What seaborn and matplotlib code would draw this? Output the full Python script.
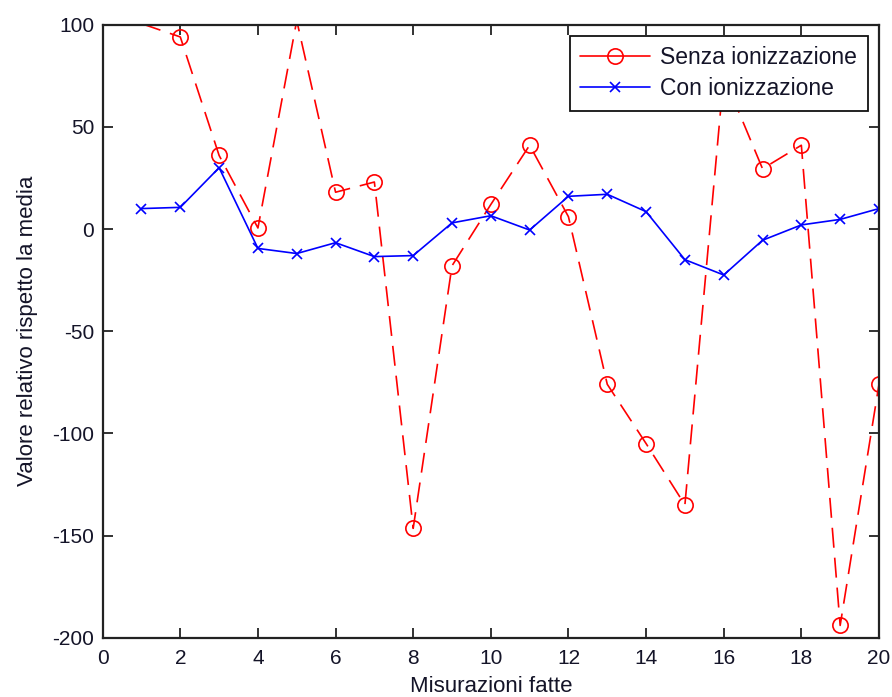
import matplotlib
matplotlib.use("Agg")
import matplotlib.pyplot as plt
from matplotlib.lines import Line2D
import seaborn as sns
import pandas as pd

misure = list(range(1, 21))
senza = [100.5, 94, 36, 0.5, 102, 18, 23, -146.5, -18, 12, 41, 6, -76, -105, -135, 75, 29.5, 41, -194, -76]
con = [10, 10.6, 30, -9.5, -12, -6.7, -13.5, -13, 3, 6.5, -0.5, 16, 17, 8.5, -15, -22.5, -5.5, 2, 4.7, 10]
etichette = ["Senza ionizzazione", "Con ionizzazione"]
xticks = list(range(0, 21, 2))
yticks = list(range(-200, 101, 50))
ylim = (-200, 100)

sns.set_style("ticks")
plt.rcParams["font.family"] = ["Liberation Sans", "DejaVu Sans"]
plt.rcParams["axes.unicode_minus"] = False
plt.rcParams["xtick.direction"] = "in"
plt.rcParams["ytick.direction"] = "in"

df = pd.DataFrame({"x": misure, "senza": senza, "con": con})

fig = plt.figure(figsize=(8.92, 6.97), dpi=100)
ax = fig.add_axes([0.1151, 0.0851, 0.8703, 0.8795])

red = "#ff0000"
blue = "#0000ff"
# like MATLAB: markers whose centre falls outside the axes are not drawn
visibili = [i for i, v in enumerate(senza) if ylim[0] <= v <= ylim[1]]
sns.lineplot(data=df, x="x", y="senza", ax=ax, color=red, linestyle=(0, (12, 6)),
             linewidth=1.2, marker="o", markersize=11, markerfacecolor="none",
             markeredgecolor=red, markeredgewidth=1.2, markevery=visibili,
             sort=False, label=etichette[0])
sns.lineplot(data=df, x="x", y="con", ax=ax, color=blue, linestyle="-",
             linewidth=1.2, marker="x", markersize=7, markeredgecolor=blue,
             markeredgewidth=1.2, sort=False, label=etichette[1])

ax.set_xlim(0, 20)
ax.set_ylim(*ylim)
ax.set_xticks(xticks)
ax.set_yticks(yticks)
txtcol = "#141428"
ax.tick_params(axis="both", which="both", direction="in", length=7, width=1.3,
               top=True, right=True, labelsize=15, colors="#222222", labelcolor=txtcol)
ax.tick_params(axis="x", pad=8)
ax.tick_params(axis="y", pad=6)
for s in ax.spines.values():
    s.set_visible(True)
    s.set_linewidth(1.6)
    s.set_color("#222222")

ax.set_xlabel("Misurazioni fatte", fontsize=16, color=txtcol, labelpad=6)
ax.set_ylabel("Valore relativo rispetto la media", fontsize=16, color=txtcol, labelpad=10)

handles = [
    Line2D([], [], color=red, linestyle="-", linewidth=1.2, marker="o", markersize=11,
           markerfacecolor="none", markeredgewidth=1.2),
    Line2D([], [], color=blue, linestyle="-", linewidth=1.2, marker="x", markersize=7,
           markeredgewidth=1.2),
]
leg = ax.legend(handles, etichette, loc="upper right", fontsize=16.5, frameon=True,
                fancybox=False, framealpha=1, edgecolor="#111111", handlelength=3.05,
                borderaxespad=0.5, labelspacing=0.35, borderpad=0.45, handletextpad=0.45)
leg.get_frame().set_linewidth(1.3)
for t in leg.get_texts():
    t.set_color(txtcol)

fig.savefig("out.png", dpi=100)
